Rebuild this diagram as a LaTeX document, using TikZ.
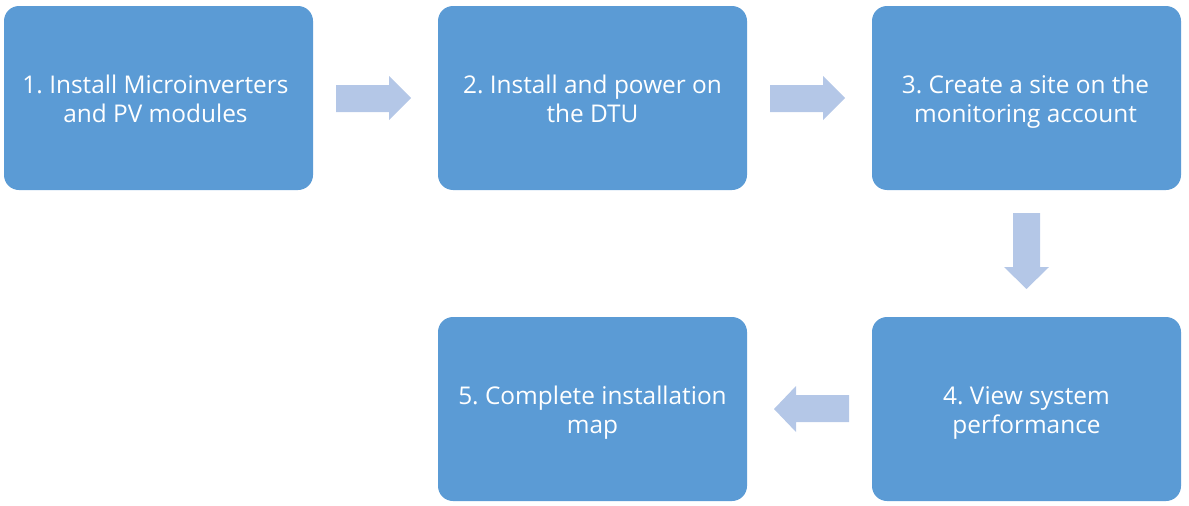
\documentclass[tikz,border=0pt]{standalone}
\usepackage{fontspec}
\setmainfont{Open Sans}
\frenchspacing
\definecolor{boxblue}{HTML}{5B9BD5}
\definecolor{arrowblue}{HTML}{B4C7E7}
\newcommand{\toprule}{\rule{0pt}{19pt}}
\newcommand{\botrule}{\rule[-6pt]{0pt}{6pt}}
\begin{document}
\begin{tikzpicture}[x=1pt,y=-1pt,
  stepbox/.style={fill=boxblue, draw=none, rounded corners=15pt, minimum width=309pt, minimum height=184pt, inner sep=0pt},
  steptext/.style={text=white, align=center, font=\fontsize{24.4}{29}\selectfont, inner sep=0pt},
  blockarrow/.style={fill=arrowblue, draw=none}]
\useasboundingbox (0,0) rectangle (1189,506);
\node[stepbox] (s1) at (158.5,98) {};
\node[stepbox] (s2) at (592.5,98) {};
\node[stepbox] (s3) at (1026.5,98) {};
\node[stepbox] (s4) at (1026.5,409) {};
\node[stepbox] (s5) at (592.5,409) {};
\node[steptext] (t1) at ([xshift=-3pt,yshift=-3pt]s1.center) {\toprule 1. Install Microinverters\\and PV modules\botrule};
\node[steptext] (t2) at ([yshift=-3pt]s2.center) {\toprule 2. Install and power on\\the DTU\botrule};
\node[steptext] (t3) at ([xshift=-1pt,yshift=-3pt]s3.center) {\toprule 3. Create a site on the\\monitoring account\botrule};
\node[steptext] (t4) at ([yshift=-3pt]s4.center) {\toprule 4. View system\\performance\botrule};
\node[steptext] (t5) at ([yshift=-3pt]s5.center) {\toprule 5. Complete installation\\map\botrule};
% right arrow 1
\fill[blockarrow] (336,85) -- (389,85) -- (389,76) -- (411,98) -- (389,120) -- (389,112) -- (336,112) -- cycle;
% right arrow 2
\fill[blockarrow] (770,85) -- (823,85) -- (823,76) -- (845,98) -- (823,120) -- (823,112) -- (770,112) -- cycle;
% down arrow
\fill[blockarrow] (1013,213) -- (1040,213) -- (1040,267) -- (1049,267) -- (1026.5,289) -- (1004,267) -- (1013,267) -- cycle;
% left arrow
\fill[blockarrow] (849,395) -- (796,395) -- (796,386) -- (774,409) -- (796,432) -- (796,422) -- (849,422) -- cycle;
\end{tikzpicture}
\end{document}
